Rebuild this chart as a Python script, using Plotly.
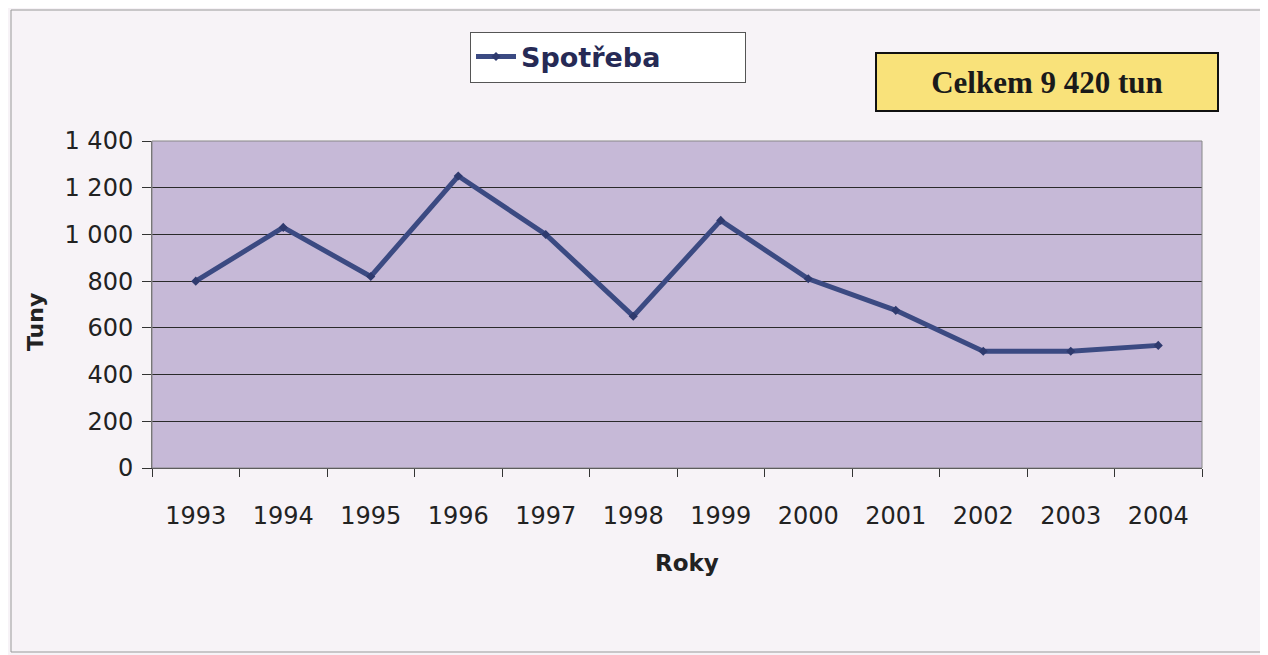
import plotly.graph_objects as go

years = ["1993", "1994", "1995", "1996", "1997", "1998", "1999", "2000", "2001", "2002", "2003", "2004"]
spotreba = [800, 1030, 820, 1250, 1000, 650, 1060, 810, 675, 500, 500, 525]
y_tickvals = [0, 200, 400, 600, 800, 1000, 1200, 1400]
y_ticktext = ["0", "200", "400", "600", "800", "1 000", "1 200", "1 400"]

# page has an 8px body margin; layout sized to fit inside the 1268x655 window
OFF = 8
W, H = 1268 - OFF, 655 - OFF
L, R, T, B = 152 - OFF, 66, 141 - OFF, 187
pw, ph = W - L - R, H - T - B


def px_x(x):  # screenshot x -> paper fraction
    return (x - OFF - L) / pw


def px_y(y):  # screenshot y -> paper fraction
    return (H - B - (y - OFF)) / ph


fig = go.Figure()
fig.add_trace(go.Scatter(
    x=years, y=spotreba, mode="lines+markers", name="Spotřeba",
    line=dict(color="#3b4a82", width=5),
    marker=dict(symbol="diamond", size=7, color="#2e3a6e"),
))

fig.update_layout(
    width=W, height=H,
    margin=dict(l=L, r=R, t=T, b=B),
    paper_bgcolor="#f7f3f7",
    plot_bgcolor="#c6b9d7",
    font=dict(family="DejaVu Sans, Liberation Sans, Arial", color="#222"),
    showlegend=True,
    legend=dict(
        orientation="h",
        x=px_x(470), y=px_y(57), xanchor="left", yanchor="middle",
        bgcolor="#ffffff", bordercolor="#555", borderwidth=1,
        font=dict(family="DejaVu Sans, Arial", size=27, color="#262a55", weight="bold"),
        itemwidth=40, entrywidth=219,
    ),
    xaxis=dict(
        type="category", range=[-0.5, len(years) - 0.5],
        tickson="boundaries", ticks="outside", ticklen=8,
        tickcolor="#333", showgrid=False, showline=True, linecolor="#333",
        tickfont=dict(family="DejaVu Sans, Arial", size=24, color="#222"),
        ticklabelstandoff=26,
    ),
    yaxis=dict(
        range=[0, 1400], tickvals=y_tickvals, ticktext=y_ticktext,
        ticks="outside", ticklen=9, tickcolor="#333",
        showgrid=True, gridcolor="#2a2a2a", gridwidth=1,
        showline=True, linecolor="#666", zeroline=False,
        tickfont=dict(family="DejaVu Sans, Arial", size=24, color="#222"),
        ticklabelstandoff=4,
    ),
    shapes=[
        dict(type="rect", xref="paper", yref="paper",
             x0=px_x(11), x1=px_x(1262), y0=px_y(652), y1=px_y(10),
             line=dict(color="#999", width=1), layer="below"),
        dict(type="rect", xref="paper", yref="paper", x0=0, x1=1, y0=0, y1=1,
             line=dict(color="#888", width=1)),
    ],
    annotations=[
        dict(text="<b>Tuny</b>", xref="paper", yref="paper", x=px_x(35), y=px_y(322),
             xanchor="center", yanchor="middle",
             textangle=-90, showarrow=False,
             font=dict(family="DejaVu Sans, Arial", size=22, color="#222")),
        dict(text="<b>Roky</b>", xref="paper", yref="paper", x=px_x(687), y=px_y(563),
             xanchor="center", yanchor="middle",
             showarrow=False, font=dict(family="DejaVu Sans, Arial", size=23, color="#222")),
        dict(text="<b>Celkem 9 420 tun</b>", xref="paper", yref="paper",
             x=px_x(1047), y=px_y(82), xanchor="center", yanchor="middle",
             showarrow=False, width=336, height=52, borderpad=2,
             bgcolor="#f9e27a", bordercolor="#111", borderwidth=2,
             font=dict(family="Liberation Serif, Times New Roman", size=31, color="#1a1a1a")),
    ],
)

fig.write_html("out.html")
